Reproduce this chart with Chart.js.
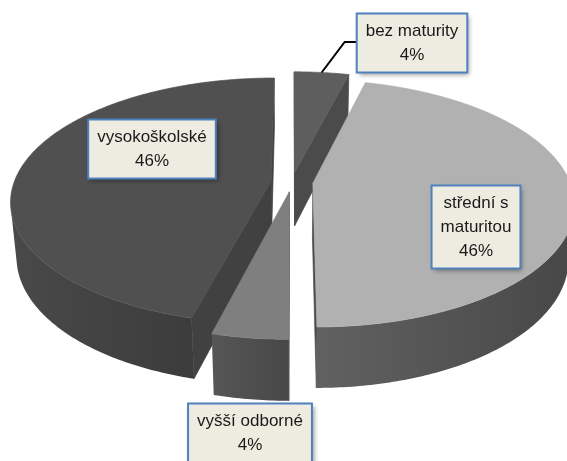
<!DOCTYPE html>
<html>
<head>
<meta charset="utf-8">
<title>Vzdělání</title>
<script src="https://cdn.jsdelivr.net/npm/chart.js@4.4.1/dist/chart.umd.min.js"></script>
<style>
  html, body { margin: 0; padding: 0; background: #ffffff; }
  #pieChart { display: block; }
</style>
</head>
<body>
<canvas id="pieChart" width="567" height="461"></canvas>
<script>
// Education levels (clockwise from 12 o'clock) and their shares in %
const categories = ["bez maturity", "střední s maturitou", "vyšší odborné", "vysokoškolské"];
const shares = [4, 46, 4, 46];

// Slice shading: top face, curved side (left -> right), radial cut face
const topColors = ["#5e5e5e", "#b1b1b1", "#7f7f7f", "#505050"];
const sideColors = [["#4e4e4e", "#474747"], ["#616161", "#474747"], ["#565656", "#474747"], ["#494949", "#3c3c3c"]];
const wallColors = ["#4b4b4b", "#4a4a4a", "#4a4a4a", "#414141"];

// Camera for the 3D look, sizes relative to the pie radius
const ELEV = 27.8 * Math.PI / 180;
const CAM_DIST = 5.43;
const DEPTH = 0.243;

// Label boxes, centre offsets from the pie centre
const labelOffsets = [[120, -139], [184, 45], [-42, 251], [-140, -33]];

function projector(arc) {
  const R = arc.outerRadius;
  const D = R * CAM_DIST;
  const sinE = Math.sin(ELEV), cosE = Math.cos(ELEV);
  return (u, v, w) => {
    const sy = v * sinE - w * cosE;
    const z = v * cosE + w * sinE;
    const s = D / (D - z);
    return [arc.x + u * s, arc.y + sy * s];
  };
}

function sliceGeometry(arc) {
  const R = arc.outerRadius;
  const a0 = arc.startAngle, a1 = arc.endAngle;
  const m = (a0 + a1) / 2;
  const off = arc.options.offset || 0;
  return {
    R, a0, a1, m,
    ox: Math.cos(m) * off,
    oy: Math.sin(m) * off,
    h: R * DEPTH,
    cam: [0, R * CAM_DIST * Math.cos(ELEV), R * CAM_DIST * Math.sin(ELEV)],
    P: projector(arc)
  };
}

function rim(g, t, w) {
  return g.P(g.ox + g.R * Math.cos(t), g.oy + g.R * Math.sin(t), w);
}

function angleSteps(from, to) {
  const n = Math.max(2, Math.ceil(Math.abs(to - from) / (Math.PI / 240)));
  const out = [];
  for (let k = 0; k <= n; k++) out.push(from + (to - from) * k / n);
  return out;
}

function fillPath(ctx, pts, color) {
  ctx.beginPath();
  pts.forEach((p, k) => (k ? ctx.lineTo(p[0], p[1]) : ctx.moveTo(p[0], p[1])));
  ctx.closePath();
  ctx.fillStyle = color;
  ctx.fill();
  ctx.lineWidth = 0.7;
  ctx.strokeStyle = typeof color === "string" ? color : "rgba(0,0,0,0)";
  ctx.stroke();
}

function drawWall(ctx, g, a, nx, ny, color) {
  // visible when its outward normal faces the camera
  const mx = g.ox + Math.cos(a) * g.R / 2, my = g.oy + Math.sin(a) * g.R / 2;
  const dot = nx * (g.cam[0] - mx) + ny * (g.cam[1] - my);
  if (dot <= 0.5) return;
  fillPath(ctx, [
    g.P(g.ox, g.oy, 0), rim(g, a, 0), rim(g, a, -g.h), g.P(g.ox, g.oy, -g.h)
  ], color);
}

function drawSlice(ctx, arc, i) {
  const g = sliceGeometry(arc);

  drawWall(ctx, g, g.a0, Math.sin(g.a0), -Math.cos(g.a0), wallColors[i]);
  drawWall(ctx, g, g.a1, -Math.sin(g.a1), Math.cos(g.a1), wallColors[i]);

  // curved outer side, only the part turned to the camera
  const seen = angleSteps(g.a0, g.a1).filter(t => {
    const px = g.ox + g.R * Math.cos(t), py = g.oy + g.R * Math.sin(t);
    return Math.cos(t) * (g.cam[0] - px) + Math.sin(t) * (g.cam[1] - py) > 0;
  });
  if (seen.length > 1) {
    const top = seen.map(t => rim(g, t, 0));
    const bottom = seen.slice().reverse().map(t => rim(g, t, -g.h));
    const xs = top.map(p => p[0]);
    const grad = ctx.createLinearGradient(Math.min(...xs), 0, Math.max(...xs), 0);
    grad.addColorStop(0, sideColors[i][0]);
    grad.addColorStop(1, sideColors[i][1]);
    fillPath(ctx, top.concat(bottom), grad);
  }

  // top face
  const face = [g.P(g.ox, g.oy, 0)].concat(angleSteps(g.a0, g.a1).map(t => rim(g, t, 0)));
  fillPath(ctx, face, topColors[i]);
}

function wrapText(ctx, text, maxWidth) {
  const words = text.split(" ");
  const lines = [];
  let line = "";
  words.forEach(w => {
    const test = line ? line + " " + w : w;
    if (line && ctx.measureText(test).width > maxWidth) {
      lines.push(line);
      line = w;
    } else {
      line = test;
    }
  });
  lines.push(line);
  return lines;
}

const pie3d = {
  id: "pie3d",
  beforeDatasetsDraw(chart) {
    const ctx = chart.ctx;
    const arcs = chart.getDatasetMeta(0).data;
    // paint back to front
    const order = arcs.map((a, i) => i).sort((p, q) => {
      const mp = (arcs[p].startAngle + arcs[p].endAngle) / 2;
      const mq = (arcs[q].startAngle + arcs[q].endAngle) / 2;
      return Math.sin(mp) - Math.sin(mq);
    });
    ctx.save();
    order.forEach(i => drawSlice(ctx, arcs[i], i));
    ctx.restore();
    return false;
  },
  afterDraw(chart) {
    const ctx = chart.ctx;
    const arcs = chart.getDatasetMeta(0).data;
    const total = shares.reduce((a, b) => a + b, 0);
    ctx.save();
    ctx.font = "17px 'Liberation Sans', Arial, sans-serif";
    ctx.textAlign = "center";
    ctx.textBaseline = "middle";
    arcs.forEach((arc, i) => {
      const g = sliceGeometry(arc);
      const pct = Math.round(shares[i] / total * 100) + "%";
      const lines = wrapText(ctx, categories[i], 120).concat([pct]);
      const lh = 24;
      const w = Math.max(...lines.map(l => ctx.measureText(l).width)) + 18;
      const hgt = lines.length * lh + 11;
      const bx = arc.x + labelOffsets[i][0] - w / 2;
      const by = arc.y + labelOffsets[i][1] - hgt / 2;

      // leader line for the label sitting outside the pie
      if (i === 0) {
        const p = rim(g, g.m, 0);
        const ly = by + hgt / 2 - 1;
        ctx.beginPath();
        ctx.moveTo(p[0], p[1]);
        ctx.lineTo(bx - 12, ly);
        ctx.lineTo(bx, ly);
        ctx.strokeStyle = "#000000";
        ctx.lineWidth = 2;
        ctx.stroke();
      }

      ctx.save();
      ctx.shadowColor = "rgba(0,0,0,0.45)";
      ctx.shadowBlur = 5;
      ctx.shadowOffsetX = 2;
      ctx.shadowOffsetY = 2;
      ctx.fillStyle = "#eeece1";
      ctx.fillRect(bx, by, w, hgt);
      ctx.restore();
      ctx.strokeStyle = "#4f81bd";
      ctx.lineWidth = 2;
      ctx.strokeRect(bx, by, w, hgt);

      ctx.fillStyle = "#1a1a1a";
      lines.forEach((l, k) => {
        ctx.fillText(l, bx + w / 2, by + 6 + lh / 2 + k * lh);
      });
    });
    ctx.restore();
  }
};

const ctx = document.getElementById("pieChart").getContext("2d");
const eduChart = new Chart(ctx, {
  type: "pie",
  data: {
    labels: categories,
    datasets: [{
      data: shares,
      backgroundColor: topColors,
      borderWidth: 0,
      offset: 21,
      hoverOffset: 0
    }]
  },
  options: {
    responsive: false,
    animation: false,
    radius: 257,
    layout: { padding: { left: 40, right: 23, top: 0, bottom: 97 } },
    plugins: {
      legend: { display: false },
      tooltip: { enabled: false }
    },
    events: []
  },
  plugins: [pie3d]
});
</script>
</body>
</html>
